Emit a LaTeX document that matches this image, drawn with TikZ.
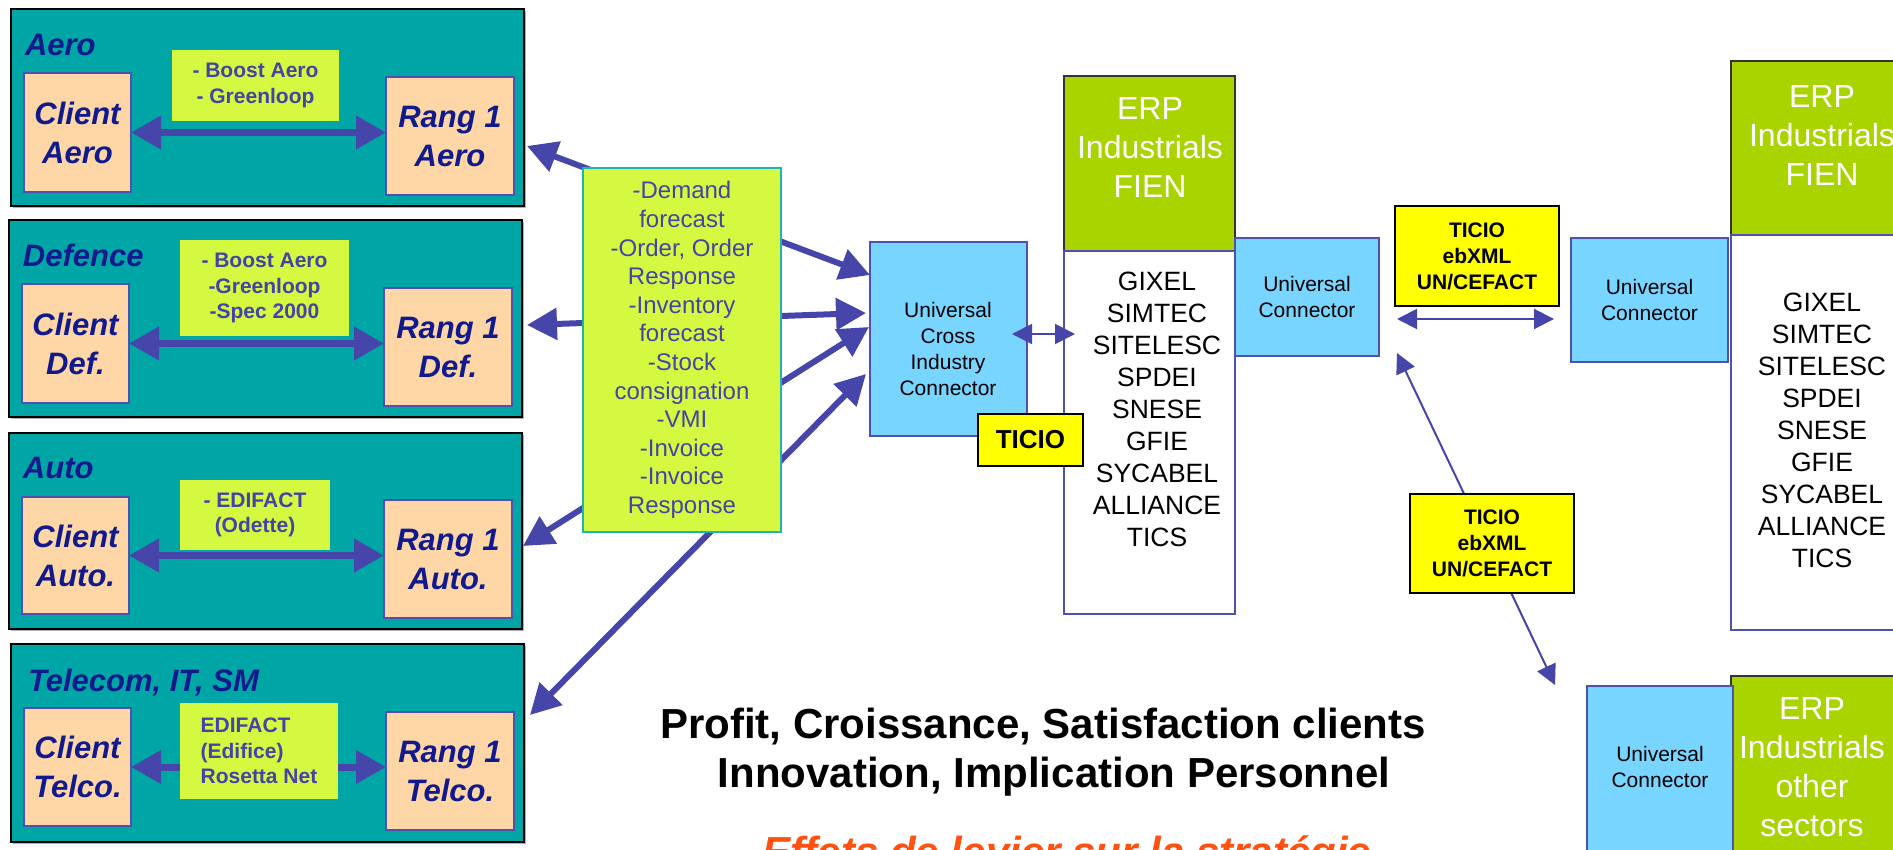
\documentclass[tikz,border=0pt]{standalone}
\usepackage{fontspec}
\setmainfont{Liberation Sans}
\usetikzlibrary{arrows.meta,shadows}
\definecolor{cTeal}{HTML}{00A6A6}
\definecolor{cPeach}{HTML}{FFD6A6}
\definecolor{cLime}{HTML}{D5F840}
\definecolor{cNavy}{HTML}{101A8C}
\definecolor{cSlate}{HTML}{4444A8}
\definecolor{cArrow}{HTML}{4646AA}
\definecolor{cSky}{HTML}{78D5FF}
\definecolor{cErp}{HTML}{A9D400}
\definecolor{cYel}{HTML}{FFFF00}
\definecolor{cBoxline}{HTML}{5050B0}
\definecolor{cMsgline}{HTML}{1EB4B4}
\definecolor{cOrange}{HTML}{FF5212}
\begin{document}
\begin{tikzpicture}[x=1pt,y=-1pt,
  every node/.style={inner sep=0pt, outer sep=0pt},
  panel/.style={draw=black, line width=2pt, fill=cTeal, anchor=north west,
    drop shadow={shadow xshift=2pt, shadow yshift=-2pt, fill=gray!60, opacity=1}},
  ptitle/.style={anchor=base west, text=cNavy, font=\fontsize{31}{37}\selectfont\bfseries\itshape},
  pbox/.style={draw=cBoxline, line width=1.5pt, fill=cPeach, anchor=north west, align=center,
    text=cNavy, font=\fontsize{31}{39}\selectfont\bfseries\itshape,
    execute at begin node={\rule{0pt}{32pt}}},
  lbl/.style={fill=cLime, anchor=north west, align=center, text=cSlate,
    font=\fontsize{21}{25.5}\selectfont\bfseries},
  msgbox/.style={fill=cLime, draw=cMsgline, line width=1.5pt, anchor=north west, align=center,
    text=cSlate, font=\fontsize{24}{28.6}\selectfont},
  ucbox/.style={fill=cSky, draw=cBoxline, line width=2pt, anchor=north west, align=center,
    font=\fontsize{21}{26}\selectfont},
  uctext/.style={align=center, font=\fontsize{21}{26}\selectfont},
  erpbox/.style={fill=cErp, draw=black!80, line width=1.5pt, anchor=north west},
  erptext/.style={align=center, text=white, font=\fontsize{32}{39}\selectfont},
  listbox/.style={fill=white, draw=cBoxline, line width=1.5pt, anchor=north west},
  listtext/.style={align=center, font=\fontsize{26.5}{32}\selectfont},
  ticio/.style={fill=cYel, draw=black, line width=2.5pt, anchor=north west, align=center,
    font=\fontsize{21}{26}\selectfont\bfseries},
  parr/.style={draw=cArrow, line width=7pt},
  bigarr/.style={draw=cArrow, line width=6pt,
    {Triangle[length=30pt,width=31pt]}-{Triangle[length=30pt,width=31pt]}},
  thinarr/.style={draw=cArrow, line width=2pt,
    {Triangle[length=20pt,width=20pt]}-{Triangle[length=20pt,width=20pt]}},
  bigtext/.style={anchor=base, font=\fontsize{42}{48}\selectfont\bfseries},
  orangetext/.style={anchor=base, text=cOrange, font=\fontsize{42}{48}\selectfont\bfseries\itshape}
]
\useasboundingbox (0,0) rectangle (1893,850);
\clip (0,0) rectangle (1893,850);
\fill[white] (0,0) rectangle (1893,850);

% ---------- sector panels ----------
\node[panel, minimum width=513pt, minimum height=197pt] (pAero) at (11,9) {};
\node[panel, minimum width=513pt, minimum height=197pt] (pDef) at (9,220) {};
\node[panel, minimum width=513pt, minimum height=196pt] (pAuto) at (9,433) {};
\node[panel, minimum width=513pt, minimum height=198pt] (pTel) at (11,644) {};

\node[ptitle] (tAero) at (25,56) {Aero};
\node[ptitle] (tDef) at (23,267) {Defence};
\node[ptitle] (tAuto) at (23,478) {Auto};
\node[ptitle] (tTel) at (28,691) {Telecom, IT, SM};

\node[pbox, minimum width=107pt, minimum height=119pt] (cAero) at (24,73) {Client\\Aero};
\node[pbox, minimum width=128pt, minimum height=118pt] (rAero) at (386,77) {Rang 1\\Aero};
\node[pbox, minimum width=107pt, minimum height=119pt] (cDef) at (22,284) {Client\\Def.};
\node[pbox, minimum width=128pt, minimum height=118pt] (rDef) at (384,288) {Rang 1\\Def.};
\node[pbox, minimum width=107pt, minimum height=117pt] (cAuto) at (22,497) {Client\\Auto.};
\node[pbox, minimum width=128pt, minimum height=118pt] (rAuto) at (384,500) {Rang 1\\Auto.};
\node[pbox, minimum width=107pt, minimum height=118pt] (cTel) at (24,708) {Client\\Telco.};
\node[pbox, minimum width=128pt, minimum height=118pt] (rTel) at (386,712) {Rang 1\\Telco.};

\node[lbl, minimum width=167pt, minimum height=71pt] (lAero) at (172,50) {- Boost Aero\\- Greenloop};
\node[lbl, minimum width=169pt, minimum height=96pt] (lDef) at (180,240) {- Boost Aero\\-Greenloop\\-Spec 2000};
\node[lbl, minimum width=150pt, minimum height=70pt] (lAuto) at (180,480) {- EDIFACT\\(Odette)};
\node[lbl, align=left, minimum width=158pt, minimum height=96pt] (lTel) at (180,703) {EDIFACT\\(Edifice)\\Rosetta Net};

\draw[parr, {Triangle[length=30pt,width=32pt]}-{Triangle[length=30pt,width=32pt]}]
  (cAero.east) -- (cAero.east -| rAero.west);
\draw[parr, {Triangle[length=30pt,width=32pt]}-{Triangle[length=30pt,width=32pt]}]
  (cDef.east) -- (cDef.east -| rDef.west);
\draw[parr, {Triangle[length=30pt,width=32pt]}-{Triangle[length=30pt,width=32pt]}]
  (cAuto.east) -- (cAuto.east -| rAuto.west);
\draw[parr, -{Triangle[length=30pt,width=32pt]}] (cTel.east -| lTel.west) -- (cTel.east);
\draw[parr, -{Triangle[length=30pt,width=32pt]}] (cTel.east -| lTel.east) -- (cTel.east -| rTel.west);

% ---------- long arrows (behind message box) ----------
\coordinate (a1s) at (527,146); \coordinate (a1e) at (870,275);
\coordinate (a2s) at (527,325); \coordinate (a2e) at (866,313);
\coordinate (a3s) at (523,546); \coordinate (a3e) at (869,327);
\coordinate (a4s) at (530,715); \coordinate (a4e) at (866,374);
\draw[bigarr] (a1s) -- (a1e);
\draw[bigarr] (a2s) -- (a2e);
\draw[bigarr] (a3s) -- (a3e);
\draw[bigarr] (a4s) -- (a4e);

\node[msgbox, minimum width=198pt, minimum height=364pt] (msg) at (583,168)
  {-Demand\\forecast\\-Order, Order\\Response\\-Inventory\\forecast\\-Stock\\consignation\\-VMI\\-Invoice\\-Invoice\\Response};

% ---------- central connector and FIEN ----------
\node[ucbox, minimum width=157pt, minimum height=194pt] (ucic) at (870,242) {};
\node[uctext] (ucicT) at (948,349) {Universal\\Cross\\Industry\\Connector};

\node[erpbox, minimum width=171pt, minimum height=175pt] (erp1) at (1064,76) {};
\node[erptext] (erp1T) at (1150,147) {ERP\\Industrials\\FIEN};
\node[listbox, minimum width=171pt, minimum height=363pt] (list1) at (1064,251) {};
\node[listtext] (list1T) at (1157,409) {GIXEL\\SIMTEC\\SITELESC\\SPDEI\\SNESE\\GFIE\\SYCABEL\\ALLIANCE\\TICS};

\coordinate (d1s) at (1012,334); \coordinate (d1e) at (1075,334);
\draw[thinarr] (d1s) -- (d1e);

\node[ticio, minimum width=105pt, minimum height=52pt, font=\fontsize{26}{30}\selectfont\bfseries] (ticio1) at (978,414) {TICIO};

\node[ucbox, minimum width=144pt, minimum height=118pt] (uc2) at (1235,238) {Universal\\Connector};

% ---------- right side ----------
\node[ticio, minimum width=164pt, minimum height=100pt] (ticio2) at (1395,206) {TICIO\\ebXML\\UN/CEFACT};
\coordinate (d2s) at (1397,319); \coordinate (d2e) at (1554,319);
\draw[thinarr] (d2s) -- (d2e);

\node[ucbox, minimum width=157pt, minimum height=124pt] (uc3) at (1571,238) {Universal\\Connector};
\node[erpbox, minimum width=170pt, minimum height=174pt] (erp2) at (1731,61) {};
\node[erptext] (erp2T) at (1822,135) {ERP\\Industrials\\FIEN};
\node[listbox, minimum width=170pt, minimum height=395pt] (list2) at (1731,235) {};
\node[listtext] (list2T) at (1822,430) {GIXEL\\SIMTEC\\SITELESC\\SPDEI\\SNESE\\GFIE\\SYCABEL\\ALLIANCE\\TICS};

\coordinate (d3s) at (1397,353); \coordinate (d3e) at (1555,685);
\draw[thinarr] (d3s) -- (d3e);
\node[ticio, minimum width=164pt, minimum height=99pt] (ticio3) at (1410,494) {TICIO\\ebXML\\UN/CEFACT};

\node[erpbox, minimum width=170pt, minimum height=200pt] (erp3) at (1731,676) {};
\node[erptext] (erp3T) at (1812,767) {ERP\\Industrials\\other\\sectors};
\node[ucbox, minimum width=146pt, minimum height=190pt] (uc4) at (1587,686) {};
\node[uctext] (uc4T) at (1660,767) {Universal\\Connector};

% ---------- bottom texts ----------
\node[bigtext] (goal1) at (1043,738) {Profit, Croissance, Satisfaction clients};
\node[bigtext] (goal2) at (1054,787) {Innovation, Implication Personnel};
\node[orangetext] (lever) at (1067,866) {Effets de levier sur la stratégie};
\end{tikzpicture}
\end{document}
